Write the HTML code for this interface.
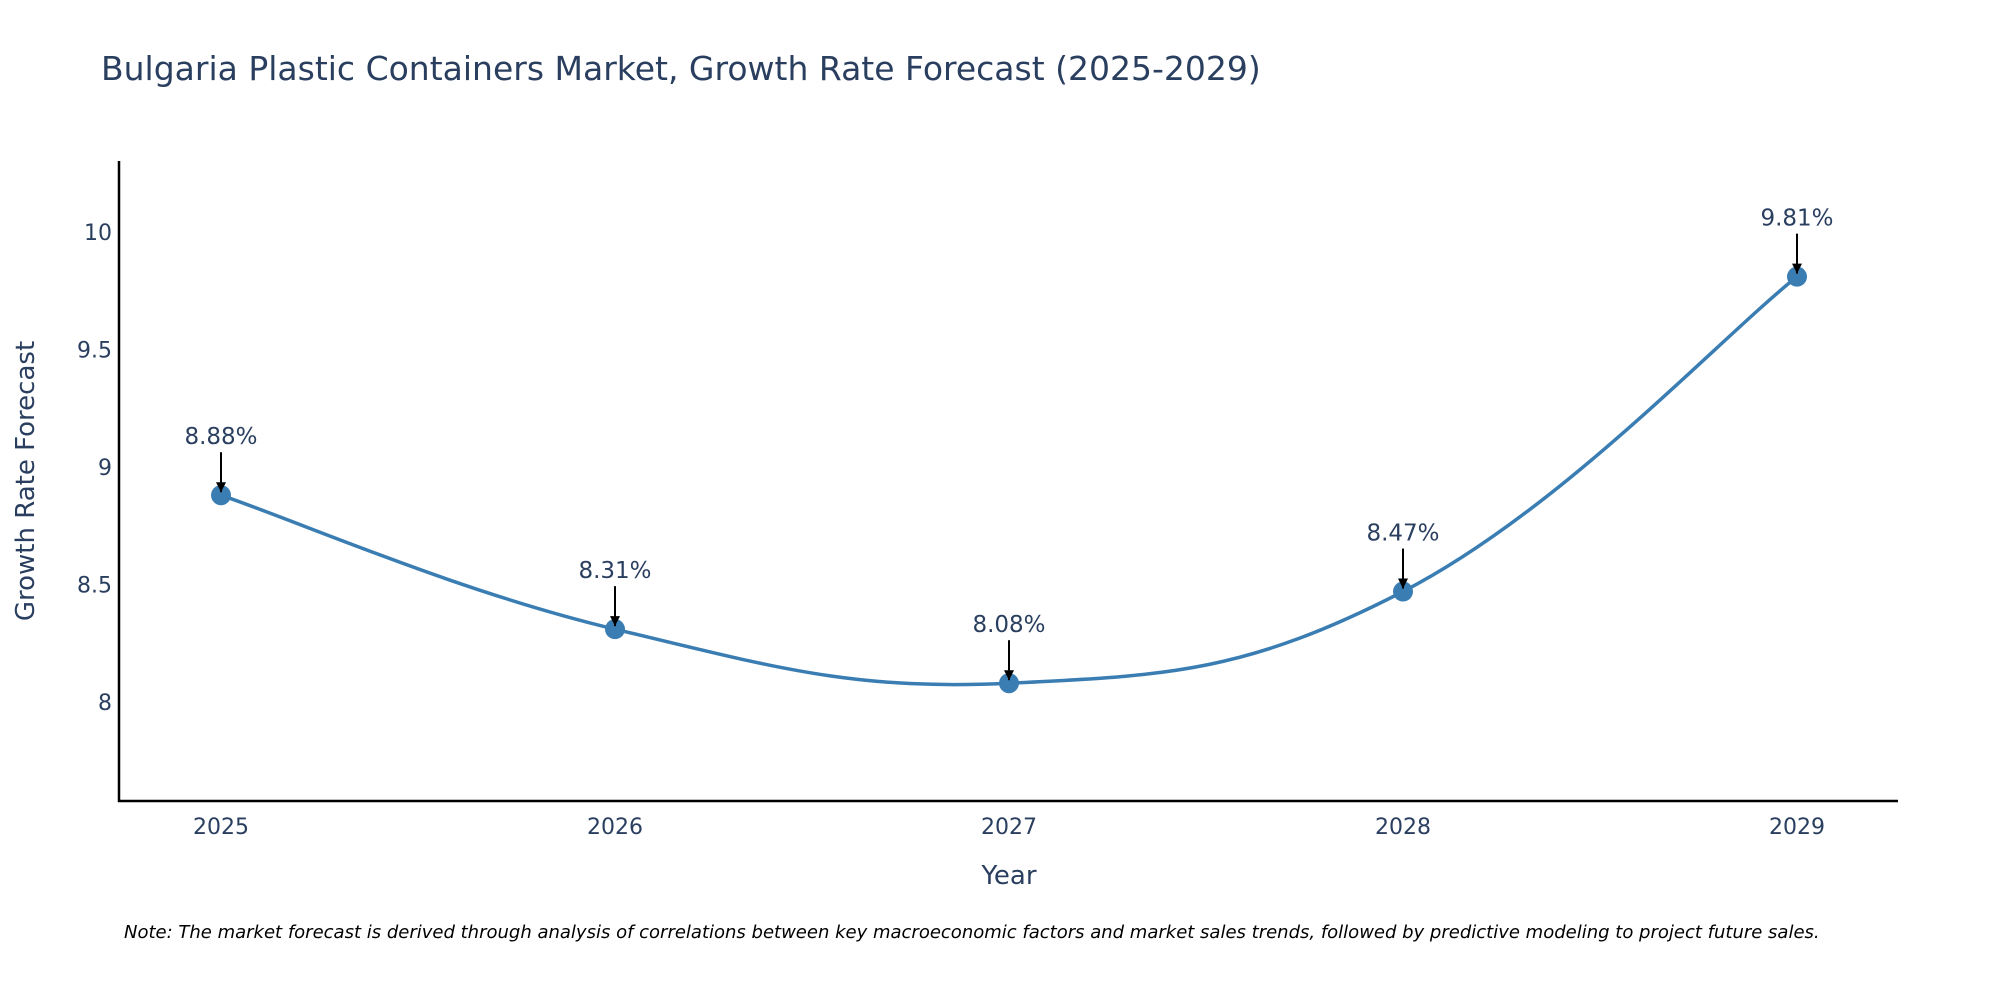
<!DOCTYPE html>
<html><head><meta charset="utf-8"><style>
body{margin:0;background:#fff;width:2000px;height:1000px;overflow:hidden;font-family:"DejaVu Sans",sans-serif}
svg text{font-family:"DejaVu Sans","Liberation Sans",sans-serif}
</style></head><body>
<svg id="chart" width="2000" height="1000" xmlns="http://www.w3.org/2000/svg">
<defs><marker id="ah" viewBox="0 0 10 10" refX="10" refY="5" markerWidth="5" markerHeight="5" orient="auto"><path d="M0,0L10,5L0,10z" fill="#000"/></marker></defs>
<text x="101" y="80" font-size="33" fill="#2a3f5f">Bulgaria Plastic Containers Market, Growth Rate Forecast (2025-2029)</text>
<line x1="119" y1="161" x2="119" y2="802" stroke="#000" stroke-width="2.5"/>
<line x1="118" y1="801" x2="1898" y2="801" stroke="#000" stroke-width="2.5"/>
<g id="ticks"></g>
<path id="line" fill="none" stroke="#3a7db3" stroke-width="3.5"/>
<g id="marks"></g>
<text x="1009" y="884" font-size="26" fill="#2a3f5f" text-anchor="middle">Year</text>
<text transform="translate(34,481) rotate(-90)" font-size="26" fill="#2a3f5f" text-anchor="middle">Growth Rate Forecast</text>
<text x="124" y="938" font-size="18" font-style="italic" fill="#000">Note: The market forecast is derived through analysis of correlations between key macroeconomic factors and market sales trends, followed by predictive modeling to project future sales.</text>
</svg>
<script>
const years=[2025,2026,2027,2028,2029];
const values=[8.88,8.31,8.08,8.47,9.81];
const labels=["8.88%","8.31%","8.08%","8.47%","9.81%"];
const yTicks=[8,8.5,9,9.5,10];
const yTickLabels=["8","8.5","9","9.5","10"];
const NS="http://www.w3.org/2000/svg";
const xs=v=>221+(v-2025)*(1797-221)/4;
const ys=v=>702-(v-8)*(702-232)/2;
function mk(t,a,p){const e=document.createElementNS(NS,t);for(const k in a)e.setAttribute(k,a[k]);p.appendChild(e);return e;}
const ticks=document.getElementById('ticks');
yTicks.forEach((t,i)=>{const e=mk('text',{x:112,y:ys(t)+8,'font-size':22,fill:'#2a3f5f','text-anchor':'end'},ticks);e.textContent=yTickLabels[i];

});
years.forEach(y=>{const e=mk('text',{x:xs(y),y:834,'font-size':22,fill:'#2a3f5f','text-anchor':'middle'},ticks);e.textContent=y;

});
const P=years.map((y,i)=>[xs(y),ys(values[i])]);
let d=`M${P[0][0]},${P[0][1]}`;const s=0.2;
for(let i=0;i<P.length-1;i++){const p0=P[Math.max(i-1,0)],p1=P[i],p2=P[i+1],p3=P[Math.min(i+2,P.length-1)];
d+=` C${p1[0]+(p2[0]-p0[0])*s},${p1[1]+(p2[1]-p0[1])*s} ${p2[0]-(p3[0]-p1[0])*s},${p2[1]-(p3[1]-p1[1])*s} ${p2[0]},${p2[1]}`;}
document.getElementById('line').setAttribute('d',d);
const g=document.getElementById('marks');
P.forEach((p,i)=>{const c=mk('circle',{cx:p[0],cy:p[1],r:10,fill:'#3a7db3'},g);


const a=mk('line',{x1:p[0],y1:p[1]-43,x2:p[0],y2:p[1]-3,stroke:'#000','stroke-width':2,'marker-end':'url(#ah)'},g);


const t=mk('text',{x:p[0],y:p[1]-51,'font-size':23,fill:'#2a3f5f','text-anchor':'middle'},g);t.textContent=labels[i];

});
</script>
</body></html>
